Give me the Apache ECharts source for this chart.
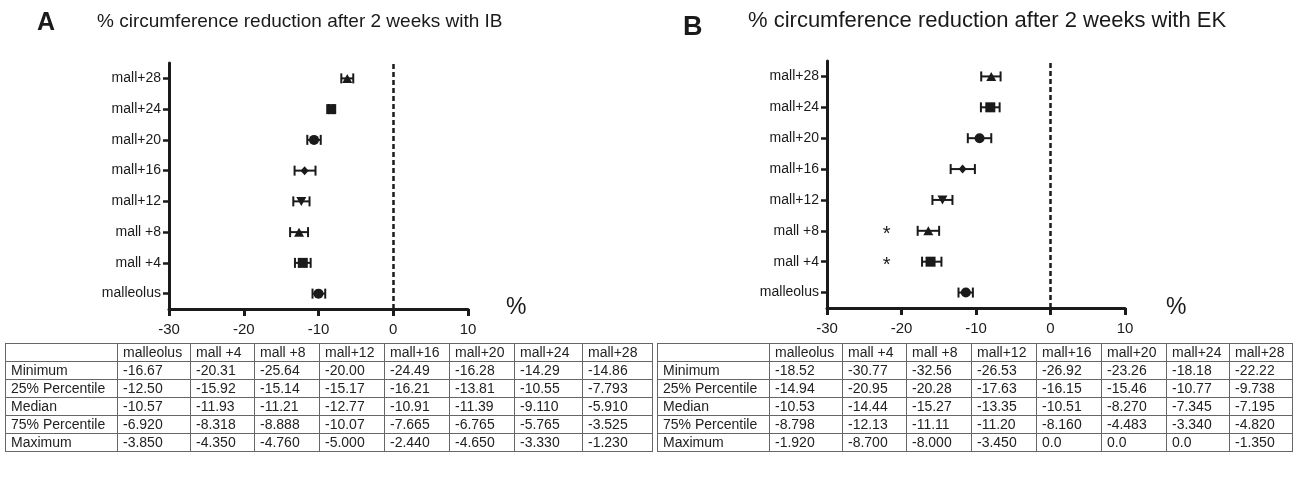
<!DOCTYPE html>
<html>
<head>
<meta charset="utf-8">
<script src="https://cdn.jsdelivr.net/npm/echarts@6/dist/echarts.min.js"></script>
<style>
  html, body { margin: 0; padding: 0; background: #fff; }
  #wrap { position: relative; width: 1296px; height: 477px; overflow: hidden; }
  #chart { position: absolute; left: 0; top: 0; width: 1296px; height: 477px; }
  table.stat { position: absolute; border-collapse: collapse; table-layout: fixed;
    font-family: "Liberation Sans", Arial, sans-serif; font-size: 14px; color: #222; }
  table.stat td { border: 1px solid #666; height: 17px; padding: 0 0 0 5px; line-height: 17px; white-space: nowrap; overflow: hidden; }
</style>
</head>
<body>
<div id="wrap">
  <div id="chart"></div>
</div>
<script>
// ---------- data ----------
const categories = ['malleolus', 'mall +4', 'mall +8', 'mall+12', 'mall+16', 'mall+20', 'mall+24', 'mall+28'];
const markerSymbols = ['circle', 'rect', 'triangle', 'triangleDown', 'diamond', 'circle', 'rect', 'triangle'];
const xTicks = [-30, -20, -10, 0, 10];

// Panel A (IB): central value and error bar ends
const ibMean = [-10.0, -12.1, -12.6, -12.3, -11.86, -10.6, -8.3, -6.15];
const ibLow  = [-10.8, -13.15, -13.8, -13.37, -13.2, -11.5, -8.6, -6.95];
const ibHigh = [-9.1, -11.05, -11.4, -11.2, -10.4, -9.7, -8.0, -5.35];

// Panel B (EK)
const ekMean = [-11.36, -16.1, -16.4, -14.5, -11.8, -9.52, -8.08, -7.95];
const ekLow  = [-12.35, -17.24, -17.83, -15.85, -13.4, -11.1, -9.34, -9.3];
const ekHigh = [-10.42, -14.64, -14.95, -13.16, -10.15, -7.95, -6.83, -6.7];
const ekStarCats = ['mall +4', 'mall +8'];
const ekStarX = -22;

// Tables
const rowLabels = ['Minimum', '25% Percentile', 'Median', '75% Percentile', 'Maximum'];
const ibMin = ['-16.67', '-20.31', '-25.64', '-20.00', '-24.49', '-16.28', '-14.29', '-14.86'];
const ibP25 = ['-12.50', '-15.92', '-15.14', '-15.17', '-16.21', '-13.81', '-10.55', '-7.793'];
const ibMed = ['-10.57', '-11.93', '-11.21', '-12.77', '-10.91', '-11.39', '-9.110', '-5.910'];
const ibP75 = ['-6.920', '-8.318', '-8.888', '-10.07', '-7.665', '-6.765', '-5.765', '-3.525'];
const ibMax = ['-3.850', '-4.350', '-4.760', '-5.000', '-2.440', '-4.650', '-3.330', '-1.230'];
const ekMin = ['-18.52', '-30.77', '-32.56', '-26.53', '-26.92', '-23.26', '-18.18', '-22.22'];
const ekP25 = ['-14.94', '-20.95', '-20.28', '-17.63', '-16.15', '-15.46', '-10.77', '-9.738'];
const ekMed = ['-10.53', '-14.44', '-15.27', '-13.35', '-10.51', '-8.270', '-7.345', '-7.195'];
const ekP75 = ['-8.798', '-12.13', '-11.11', '-11.20', '-8.160', '-4.483', '-3.340', '-4.820'];
const ekMax = ['-1.920', '-8.700', '-8.000', '-3.450', '0.0', '0.0', '0.0', '-1.350'];

// ---------- chart ----------
const FONT = '"Liberation Sans", Arial, sans-serif';
const INK = '#1a1a1a';

const triDown = 'path://M0,0 L10,0 L5,9 Z';
function sym(name) { return name === 'triangleDown' ? triDown : name; }
function symSize(name) {
  if (name === 'diamond') return [8, 9];
  if (name === 'rect') return 10;
  if (name === 'circle') return 10;
  return [10, 9];
}

function xAxisFor(gi) {
  return {
    gridIndex: gi, type: 'value', min: -30, max: 10, interval: 10,
    axisLine: { show: true, onZero: false, lineStyle: { color: INK, width: 3 } },
    axisTick: { show: true, length: 7, lineStyle: { color: INK, width: 3 } },
    axisLabel: { color: INK, fontSize: 15, fontFamily: FONT, margin: 13,
      formatter: v => (xTicks.indexOf(v) >= 0 ? String(v) : '') },
    splitLine: { show: false }
  };
}
function yAxisFor(gi) {
  return {
    gridIndex: gi, type: 'category', data: categories,
    axisLine: { show: true, onZero: false, lineStyle: { color: INK, width: 3 } },
    axisTick: { show: true, alignWithLabel: true, length: 6, lineStyle: { color: INK, width: 2.5 } },
    axisLabel: { color: INK, fontSize: 14, fontFamily: FONT, margin: 8 },
    splitLine: { show: false }
  };
}
function errSeries(gi, low, high) {
  return {
    type: 'custom', xAxisIndex: gi, yAxisIndex: gi, z: 3,
    data: low.map((l, i) => [l, high[i], i]),
    encode: { x: [0, 1], y: 2 },
    renderItem: function (params, api) {
      const c = api.value(2);
      const p1 = api.coord([api.value(0), c]);
      const p2 = api.coord([api.value(1), c]);
      const h = 5;
      const st = { stroke: INK, lineWidth: 2 };
      return { type: 'group', children: [
        { type: 'line', shape: { x1: p1[0], y1: p1[1], x2: p2[0], y2: p2[1] }, style: st },
        { type: 'line', shape: { x1: p1[0], y1: p1[1] - h, x2: p1[0], y2: p1[1] + h }, style: st },
        { type: 'line', shape: { x1: p2[0], y1: p2[1] - h, x2: p2[0], y2: p2[1] + h }, style: st }
      ]};
    }
  };
}
function markerSeries(gi, mean) {
  return {
    type: 'scatter', xAxisIndex: gi, yAxisIndex: gi, z: 4,
    data: mean.map((v, i) => ({
      value: [v, categories[i]],
      symbol: sym(markerSymbols[i]),
      symbolSize: symSize(markerSymbols[i])
    })),
    itemStyle: { color: INK, opacity: 1 },
    markLine: {
      silent: true, symbol: 'none', label: { show: false },
      lineStyle: { color: INK, type: [5, 3], width: 2.5 },
      data: [{ xAxis: 0 }]
    }
  };
}

const option = {
  animation: false,
  backgroundColor: '#fff',
  grid: [
    { left: 169, right: 1296 - 468, top: 63, bottom: 477 - 309, containLabel: false },
    { left: 827, right: 1296 - 1125, top: 61, bottom: 477 - 308, containLabel: false }
  ],
  xAxis: [xAxisFor(0), xAxisFor(1)],
  yAxis: [yAxisFor(0), yAxisFor(1)],
  series: [
    errSeries(0, ibLow, ibHigh),
    markerSeries(0, ibMean),
    errSeries(1, ekLow, ekHigh),
    markerSeries(1, ekMean),
    {
      type: 'custom', xAxisIndex: 1, yAxisIndex: 1, z: 5,
      data: ekStarCats.map(c => [ekStarX, categories.indexOf(c)]),
      encode: { x: 0, y: 1 },
      renderItem: function (params, api) {
        const p = api.coord([api.value(0), api.value(1)]);
        return { type: 'text', x: p[0], y: p[1] + 4,
          style: { text: '*', font: '20px "Liberation Sans", Arial', fill: INK,
            align: 'center', verticalAlign: 'middle' } };
      }
    }
  ],
  graphic: [
    { type: 'text', left: 37, top: 11, style: { text: 'A', font: 'bold 25px "Liberation Sans", Arial', fill: INK } },
    { type: 'text', left: 97, top: 12, style: { text: '% circumference reduction after 2 weeks with IB', font: '19px ' + FONT, fill: INK } },
    { type: 'text', left: 683, top: 14, style: { text: 'B', font: 'bold 27px "Liberation Sans", Arial', fill: INK } },
    { type: 'text', left: 748, top: 10, style: { text: '% circumference reduction after 2 weeks with EK', font: '22px ' + FONT, fill: INK } },
    { type: 'text', left: 506, top: 296, style: { text: '%', font: '23px ' + FONT, fill: INK } },
    { type: 'text', left: 1166, top: 296, style: { text: '%', font: '23px ' + FONT, fill: INK } }
  ]
};

const chart = echarts.init(document.getElementById('chart'), null, { renderer: 'canvas' });
chart.setOption(option);

// ---------- tables ----------
function buildTable(left, top, widths, rows) {
  const t = document.createElement('table');
  t.className = 'stat';
  t.style.left = left + 'px';
  t.style.top = top + 'px';
  t.style.width = widths.reduce((a, b) => a + b, 0) + 'px';
  const cg = document.createElement('colgroup');
  widths.forEach(w => { const c = document.createElement('col'); c.style.width = w + 'px'; cg.appendChild(c); });
  t.appendChild(cg);
  const tb = document.createElement('tbody');
  rows.forEach(r => {
    const tr = document.createElement('tr');
    r.forEach(v => { const td = document.createElement('td'); td.textContent = v; tr.appendChild(td); });
    tb.appendChild(tr);
  });
  t.appendChild(tb);
  document.getElementById('wrap').appendChild(t);
}
const ibRows = [[''].concat(categories)].concat(
  [ibMin, ibP25, ibMed, ibP75, ibMax].map((r, i) => [rowLabels[i]].concat(r)));
const ekRows = [[''].concat(categories)].concat(
  [ekMin, ekP25, ekMed, ekP75, ekMax].map((r, i) => [rowLabels[i]].concat(r)));
buildTable(5, 343, [112, 73, 64, 65, 65, 65, 65, 68, 70], ibRows);
buildTable(657, 343, [112, 73, 64, 65, 65, 65, 65, 63, 63], ekRows);
</script>
</body>
</html>
